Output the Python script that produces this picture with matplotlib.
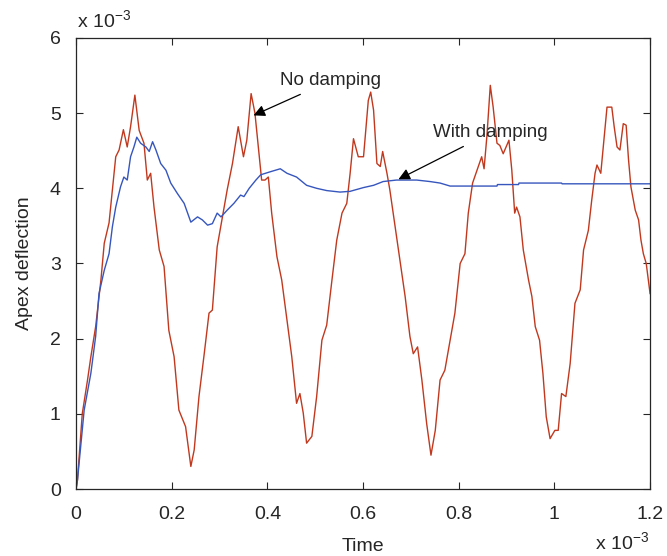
import numpy as np
import matplotlib.pyplot as plt

plt.rcParams['font.family'] = ['Liberation Sans', 'DejaVu Sans']
plt.rcParams['mathtext.fontset'] = 'custom'
plt.rcParams['mathtext.rm'] = 'Liberation Sans'

# time in units of 1e-3, deflection in units of 1e-3
t_free = [0.000, 0.003, 0.013, 0.024, 0.031, 0.041, 0.052, 0.059, 0.069, 0.076,
          0.083, 0.090, 0.099, 0.107, 0.114, 0.123, 0.132, 0.142, 0.149, 0.156,
          0.163, 0.174, 0.184, 0.194, 0.205, 0.215, 0.229, 0.240, 0.247, 0.257,
          0.268, 0.278, 0.285, 0.295, 0.306, 0.316, 0.327, 0.339, 0.350, 0.357,
          0.366, 0.374, 0.381, 0.388, 0.395, 0.402, 0.409, 0.420, 0.430, 0.441,
          0.451, 0.461, 0.468, 0.475, 0.482, 0.493, 0.503, 0.514, 0.524, 0.535,
          0.545, 0.556, 0.566, 0.573, 0.580, 0.590, 0.601, 0.611, 0.616, 0.622,
          0.629, 0.636, 0.641, 0.650, 0.656, 0.667, 0.677, 0.688, 0.698, 0.705,
          0.714, 0.723, 0.733, 0.742, 0.751, 0.761, 0.771, 0.782, 0.792, 0.803,
          0.813, 0.820, 0.829, 0.841, 0.848, 0.853, 0.859, 0.866, 0.872, 0.880,
          0.886, 0.893, 0.905, 0.911, 0.917, 0.921, 0.928, 0.935, 0.946, 0.953,
          0.960, 0.969, 0.976, 0.983, 0.991, 1.001, 1.008, 1.015, 1.024, 1.033,
          1.043, 1.054, 1.061, 1.071, 1.078, 1.085, 1.089, 1.097, 1.103, 1.110,
          1.120, 1.125, 1.131, 1.137, 1.144, 1.150, 1.155, 1.160, 1.169, 1.176,
          1.181, 1.186, 1.192, 1.200]
y_free = [0.00, 0.12, 1.00, 1.45, 1.76, 2.16, 2.78, 3.27, 3.54, 3.98,
          4.42, 4.51, 4.78, 4.55, 4.82, 5.24, 4.77, 4.60, 4.11, 4.20,
          3.75, 3.18, 2.96, 2.11, 1.76, 1.05, 0.83, 0.30, 0.52, 1.23,
          1.80, 2.34, 2.38, 3.22, 3.62, 3.98, 4.33, 4.82, 4.42, 4.64,
          5.26, 5.00, 4.55, 4.11, 4.11, 4.15, 3.67, 3.09, 2.78, 2.25,
          1.76, 1.14, 1.27, 1.01, 0.61, 0.70, 1.23, 1.98, 2.18, 2.78,
          3.31, 3.67, 3.80, 4.20, 4.66, 4.42, 4.42, 5.17, 5.28, 5.04,
          4.33, 4.29, 4.49, 4.20, 3.98, 3.49, 3.05, 2.56, 2.03, 1.80,
          1.89, 1.45, 0.87, 0.45, 0.78, 1.45, 1.58, 1.98, 2.34, 3.00,
          3.13, 3.67, 4.07, 4.29, 4.42, 4.26, 4.70, 5.37, 5.08, 4.60,
          4.57, 4.46, 4.64, 4.24, 3.67, 3.75, 3.62, 3.18, 2.78, 2.56,
          2.16, 1.98, 1.54, 0.96, 0.67, 0.78, 0.78, 1.27, 1.23, 1.67,
          2.47, 2.65, 3.18, 3.44, 3.84, 4.20, 4.31, 4.20, 4.60, 5.08,
          5.08, 4.82, 4.55, 4.51, 4.86, 4.84, 4.38, 4.02, 3.71, 3.58,
          3.31, 3.13, 3.00, 2.60]

t_damp = [0.000, 0.003, 0.017, 0.031, 0.041, 0.048, 0.059, 0.069, 0.076, 0.083,
          0.093, 0.100, 0.107, 0.114, 0.121, 0.127, 0.135, 0.146, 0.153, 0.160,
          0.167, 0.177, 0.188, 0.198, 0.212, 0.226, 0.240, 0.254, 0.264, 0.275,
          0.285, 0.295, 0.303, 0.316, 0.330, 0.344, 0.351, 0.362, 0.376, 0.386,
          0.406, 0.427, 0.441, 0.461, 0.482, 0.503, 0.524, 0.552, 0.573, 0.601,
          0.622, 0.642, 0.670, 0.712, 0.740, 0.761, 0.782, 0.880, 0.881, 0.925,
          0.926, 1.015, 1.016, 1.200]
y_damp = [0.00, 0.12, 1.05, 1.54, 2.03, 2.60, 2.91, 3.13, 3.49, 3.75,
          4.02, 4.15, 4.11, 4.42, 4.55, 4.68, 4.60, 4.55, 4.49, 4.62,
          4.51, 4.33, 4.24, 4.07, 3.93, 3.80, 3.55, 3.62, 3.58, 3.51,
          3.53, 3.67, 3.62, 3.71, 3.80, 3.91, 3.89, 4.00, 4.11, 4.18,
          4.22, 4.26, 4.20, 4.15, 4.04, 4.00, 3.97, 3.95, 3.96, 4.01,
          4.04, 4.09, 4.11, 4.11, 4.09, 4.07, 4.03, 4.03, 4.05, 4.05,
          4.07, 4.07, 4.06, 4.06]

fig = plt.figure(figsize=(6.67, 5.56), dpi=100)
ax = fig.add_axes([0.114, 0.1205, 0.8606, 0.8112])

ax.plot(t_free, y_free, color='#c0391f', lw=1.0)
ax.plot(t_damp, y_damp, color='#3656bd', lw=1.0)

ax.set_xlim(0, 1.2)
ax.set_ylim(0, 6)
ax.set_xticks([0, 0.2, 0.4, 0.6, 0.8, 1.0, 1.2])
ax.set_xticklabels(['0', '0.2', '0.4', '0.6', '0.8', '1', '1.2'])
ax.set_yticks(range(7))
ax.tick_params(direction='in', length=5, width=0.8, top=True, right=True,
               labelsize=14, colors='#262626')
ax.tick_params(axis='x', pad=12)
ax.tick_params(axis='y', pad=11)
for s in ax.spines.values():
    s.set_color('#262626')
    s.set_linewidth(0.9)

ax.set_xlabel('Time', fontsize=14, color='#262626', labelpad=11)
ax.set_ylabel('Apex deflection', fontsize=14, color='#262626', labelpad=12)

fig.text(0.116, 0.949, r'x 10$^{-3}$', fontsize=14, color='#262626', va='baseline')
fig.text(0.973, 0.011, r'x 10$^{-3}$', fontsize=14, color='#262626',
         ha='right', va='baseline')

ax.annotate('No damping', xy=(0.371, 4.97), xytext=(0.4265, 5.37),
            fontsize=13.5, color='#262626', va='baseline',
            arrowprops=dict(arrowstyle='-|>', color='black', lw=0.9,
                            shrinkA=4, shrinkB=0, mutation_scale=17))
ax.annotate('With damping', xy=(0.674, 4.12), xytext=(0.747, 4.68),
            fontsize=13.5, color='#262626', va='baseline',
            arrowprops=dict(arrowstyle='-|>', color='black', lw=0.9,
                            shrinkA=4, shrinkB=0, mutation_scale=17))

fig.savefig('out.png', dpi=100)
